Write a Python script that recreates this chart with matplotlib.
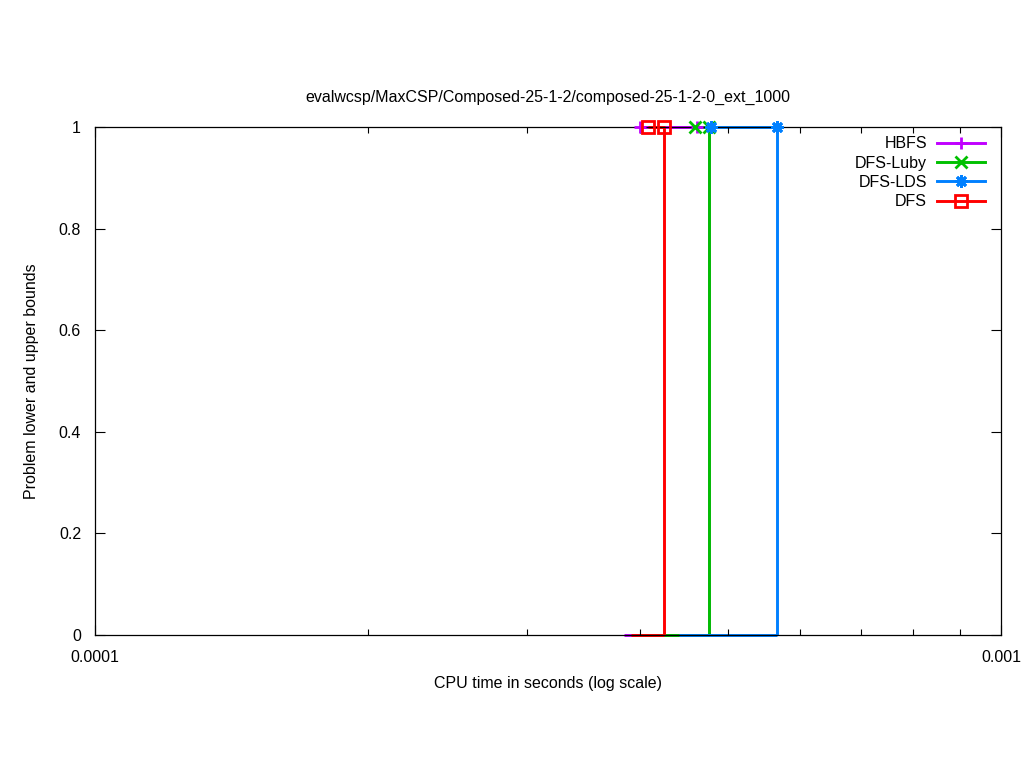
import matplotlib
matplotlib.use("Agg")
import matplotlib.pyplot as plt
from matplotlib.ticker import LogLocator, FixedLocator, NullFormatter, FixedFormatter

plt.rcParams['font.family'] = ['Liberation Sans', 'DejaVu Sans']

title = "evalwcsp/MaxCSP/Composed-25-1-2/composed-25-1-2-0_ext_1000"
names = ["HBFS", "DFS-Luby", "DFS-LDS", "DFS"]
colors = ["#c000ff", "#00c000", "#0080ff", "#ff0000"]
markers = ["+", "x", (8, 2, 0), "s"]

# upper bound solution times (value 1) and final proof time (drop to 0)
ub_times = [[4.00e-4, 4.62e-4], [4.595e-4, 4.76e-4], [4.786e-4, 5.66e-4], [4.08e-4, 4.246e-4]]
ub_value = 1.0
end_times = [4.76e-4, 4.76e-4, 5.66e-4, 4.246e-4]
lb_start = [3.84e-4, 4.0e-4, 4.41e-4, 3.905e-4]
lb_value = 0.0

fig = plt.figure(figsize=(10.24, 7.68), dpi=100)
ax = fig.add_axes([95/1024, 1-635/768, (1001-95)/1024, (635-127)/768])
fs = 11.5
lw = 2.1

handles = []
for name, col, mk, ut, et, ls in zip(names, colors, markers, ub_times, end_times, lb_start):
    ax.plot([ls, et], [lb_value, lb_value], color=col, lw=lw, solid_capstyle='butt', clip_on=False, zorder=1.5)
    xs = list(ut) + [et, et]
    ys = [ub_value] * len(ut) + [ub_value, lb_value]
    ax.plot(xs, ys, color=col, lw=lw, solid_capstyle='butt', clip_on=False, zorder=1.5)
    mfc = 'none' if mk == 's' else col
    ms = 8 if mk == 's' else 9
    ax.plot(ut, [ub_value] * len(ut), linestyle='none', marker=mk, markersize=ms,
            markeredgewidth=2, markerfacecolor=mfc, markeredgecolor=col, clip_on=False, zorder=4)
    h, = ax.plot([], [], color=col, lw=lw, marker=mk, markersize=ms,
                 markeredgewidth=2, markerfacecolor=mfc, markeredgecolor=col, label=name)
    handles.append(h)

ax.set_xscale('log')
ax.set_xlim(1e-4, 1e-3)
ax.set_ylim(0, 1)

ax.xaxis.set_major_locator(FixedLocator([1e-4, 1e-3]))
ax.xaxis.set_major_formatter(FixedFormatter(["0.0001", "0.001"]))
ax.xaxis.set_minor_locator(LogLocator(base=10, subs=range(2, 10)))
ax.xaxis.set_minor_formatter(NullFormatter())
ax.set_yticks([0, 0.2, 0.4, 0.6, 0.8, 1.0])
ax.set_yticklabels(["0", "0.2", "0.4", "0.6", "0.8", "1"])

ax.tick_params(which='both', direction='in', top=True, right=True, labelsize=fs, width=0.8)
ax.tick_params(axis='x', which='major', length=7, pad=11)
ax.tick_params(axis='y', which='major', length=7, pad=10)
ax.tick_params(which='minor', length=4)
for s in ax.spines.values():
    s.set_linewidth(0.9)
    s.set_zorder(2)

ax.set_title(title, fontsize=fs, pad=18)
ax.set_xlabel("CPU time in seconds (log scale)", fontsize=fs, labelpad=8)
ax.set_ylabel("Problem lower and upper bounds", fontsize=fs, labelpad=14)

ax.legend(handles=handles, loc='upper right', frameon=False, markerfirst=False,
          fontsize=fs, handlelength=3.0, handletextpad=0.6, labelspacing=0.27,
          borderaxespad=0.0, bbox_to_anchor=(1 - 10/906, 1 - 3/508), numpoints=1)

fig.savefig("out.png", dpi=100)
